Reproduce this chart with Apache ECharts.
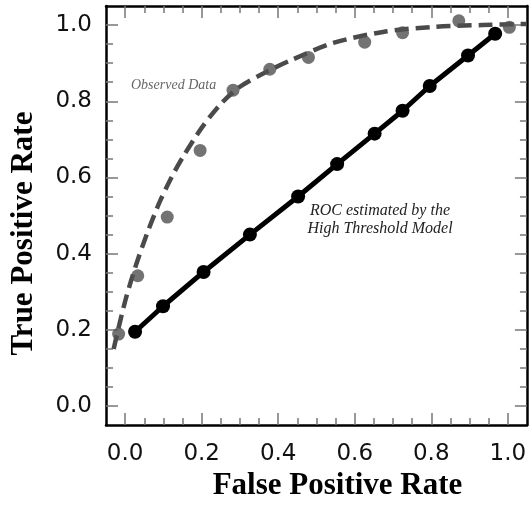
<!DOCTYPE html>
<html>
<head>
<meta charset="utf-8">
<script src="https://cdn.jsdelivr.net/npm/echarts@6/dist/echarts.min.js"></script>
<style>
  html, body { margin: 0; padding: 0; background: #fff; }
  #main { width: 529px; height: 506px; }
</style>
</head>
<body>
<div id="main"></div>
<script>
// observed data (gray dots)
let observedFpr = [-0.017, 0.033, 0.11, 0.196, 0.282, 0.378, 0.479, 0.626, 0.725, 0.872, 1.004]
let observedTpr = [0.189, 0.342, 0.496, 0.671, 0.829, 0.884, 0.915, 0.955, 0.98, 1.011, 0.994]

// dashed curve fitted to the observed data
let curveFpr = [-0.03, 0.0, 0.03, 0.06, 0.09, 0.12, 0.15, 0.2, 0.25, 0.3, 0.371, 0.432, 0.544, 0.674, 0.803, 0.933, 1.05]
let curveTpr = [0.15, 0.275, 0.375, 0.46, 0.535, 0.598, 0.652, 0.73, 0.793, 0.838, 0.878, 0.907, 0.953, 0.982, 0.995, 1.0, 1.003]

// ROC of the high threshold model (black)
let htmFpr = [0.026, 0.099, 0.205, 0.326, 0.452, 0.554, 0.652, 0.725, 0.796, 0.896, 0.967]
let htmTpr = [0.195, 0.262, 0.352, 0.45, 0.55, 0.635, 0.715, 0.775, 0.84, 0.92, 0.977]

let majorTicks = [0, 0.2, 0.4, 0.6, 0.8, 1.0]
let minorTicks = [0.05, 0.1, 0.15, 0.25, 0.3, 0.35, 0.45, 0.5, 0.55, 0.65, 0.7, 0.75, 0.85, 0.9, 0.95]

const zip = (a, b) => a.map((v, i) => [v, b[i]])

var myChart = echarts.init(document.getElementById('main'))

function axis(pos, ticks, len, main){
  return {
    type: 'value',
    position: pos,
    min: -0.05,
    max: 1.05,
    splitLine: {show: false},
    axisLine: {show: main, onZero: false, lineStyle: {color: '#000', width: 2.5}},
    axisTick: {show: true, inside: true, length: len, customValues: ticks, lineStyle: {color: '#777', width: 1.5}},
    axisLabel: {show: false}
  }
}

let xMain = axis('bottom', majorTicks, 12, true)
xMain.axisLabel = {
  show: true, customValues: majorTicks, margin: 17,
  formatter: v => v.toFixed(1),
  fontFamily: 'DejaVu Sans', fontSize: 23, color: '#111'
}
xMain.name = 'False Positive Rate'
xMain.nameLocation = 'middle'
xMain.nameGap = 37
xMain.nameTextStyle = {fontFamily: 'Liberation Serif', fontWeight: 'bold', fontSize: 31, color: '#000', padding: [0, 0, 0, 42]}

let yMain = axis('left', majorTicks, 12, true)
yMain.axisLabel = {
  show: true, customValues: majorTicks, margin: 14,
  formatter: v => v.toFixed(1),
  fontFamily: 'DejaVu Sans', fontSize: 23, color: '#111'
}
yMain.name = 'True Positive Rate'
yMain.nameLocation = 'middle'
yMain.nameGap = 67
yMain.nameTextStyle = {fontFamily: 'Liberation Serif', fontWeight: 'bold', fontSize: 31, color: '#000', padding: [0, 36, 0, 0]}

var option = {
  animation: false,
  backgroundColor: '#fff',
  grid: {left: 104, right: 1, top: 6, bottom: 73},
  xAxis: [
    xMain,
    axis('bottom', minorTicks, 7, false),
    axis('top', majorTicks, 12, true),
    axis('top', minorTicks, 7, false)
  ],
  yAxis: [
    yMain,
    axis('left', minorTicks, 7, false),
    axis('right', majorTicks, 12, true),
    axis('right', minorTicks, 7, false)
  ],
  graphic: [
    {type: 'text', x: 131, y: 78, style: {text: 'Observed Data', font: 'italic 14px "Liberation Serif"', fill: '#666'}},
    {type: 'text', x: 380, y: 202, style: {
      text: 'ROC estimated by the\nHigh Threshold Model', font: 'italic 16px "Liberation Serif"',
      fill: '#222', align: 'center', lineHeight: 18
    }}
  ],
  series: [
    {
      name: 'curve', type: 'line', smooth: 0.3, symbol: 'none',
      data: zip(curveFpr, curveTpr),
      lineStyle: {color: '#4a4a4a', width: 4.5, type: [14, 7]},
      z: 2
    },
    {
      name: 'observed', type: 'scatter', symbolSize: 13,
      data: zip(observedFpr, observedTpr),
      itemStyle: {color: '#505050'},
      z: 3
    },
    {
      name: 'htm', type: 'line', symbol: 'circle', symbolSize: 14,
      data: zip(htmFpr, htmTpr),
      lineStyle: {color: '#000', width: 5},
      itemStyle: {color: '#000'},
      z: 4
    }
  ]
}

myChart.setOption(option)
</script>
</body>
</html>
